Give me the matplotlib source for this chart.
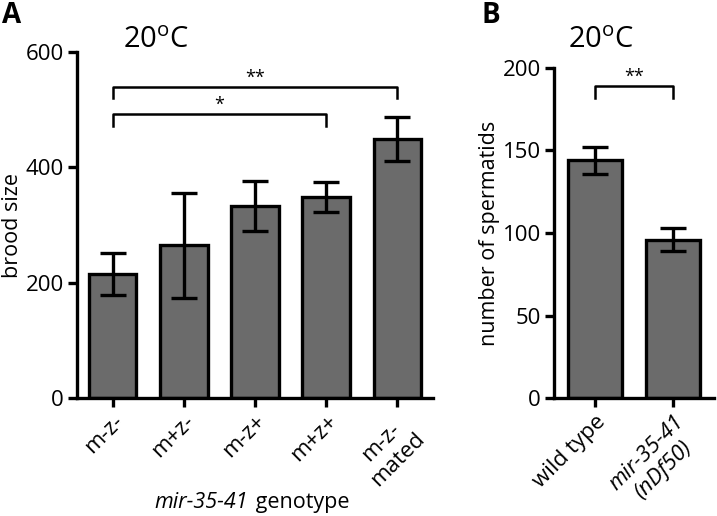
import matplotlib
matplotlib.use("Agg")
import matplotlib.pyplot as plt

plt.rcParams['font.family'] = ['Open Sans', 'DejaVu Sans']
plt.rcParams['mathtext.fontset'] = 'custom'
plt.rcParams['mathtext.rm'] = 'Open Sans'
plt.rcParams['mathtext.it'] = 'Open Sans:italic'

# Panel A data
a_labels = ["m-z-", "m+z-", "m-z+", "m+z+", "m-z-\nmated"]
a_means = [215, 265, 333, 348, 449]
a_errs = [37, 91, 44, 26, 38]
a_yticks = [0, 200, 400, 600]

# Panel B data
b_labels = ["wild type", "mir-35-41\n(nDf50)"]
b_means = [144, 96]
b_errs = [8, 7]
b_yticks = [0, 50, 100, 150, 200]

bar_color = "#6b6b6b"
lw_axis = 2.4
tick_fs = 16
label_fs = 15.5

fig = plt.figure(figsize=(7.17, 5.16), dpi=100)
axA = fig.add_axes([77/717, 118/516, 356/717, 346/516])
axB = fig.add_axes([554/717, 118/516, 160/717, 330/516])


def style(ax):
    for s in ['top', 'right']:
        ax.spines[s].set_visible(False)
    for s in ['left', 'bottom']:
        ax.spines[s].set_linewidth(lw_axis)
    ax.tick_params(width=lw_axis, length=6.5, labelsize=tick_fs, pad=3)


def bracket(ax, x1, x2, y, drop, label, fs=13):
    ax.plot([x1, x1, x2, x2], [y - drop, y, y, y - drop], color='black', lw=1.8,
            clip_on=False, zorder=4)
    ax.text((x1 + x2) / 2, y, label, ha='center', va='bottom', fontsize=fs)


# Panel A
xA = list(range(len(a_labels)))
axA.bar(xA, a_means, width=0.67, color=bar_color, edgecolor='black', linewidth=2.4, zorder=2)
axA.errorbar(xA, a_means, yerr=a_errs, fmt='none', ecolor='black', elinewidth=2.4,
             capsize=9.5, capthick=2.4, zorder=3)
axA.set_xlim(-0.5, len(a_labels) - 0.5)
axA.set_ylim(0, 600)
axA.set_yticks(a_yticks)
axA.set_xticks(xA)
axA.set_xticklabels(a_labels, rotation=45, ha='right', rotation_mode='anchor',
                    multialignment='center')
style(axA)
axA.set_ylabel("brood size", fontsize=label_fs, labelpad=2)

bracket(axA, 0, 4, 539, 19, "**")
bracket(axA, 0, 3, 492, 20, "*")

fig.text(156/717, (516 - 48)/516, "20$^\\mathrm{o}$C", fontsize=21,
         ha='center', va='baseline')

fig.text(248/717, 8/516, "mir-35-41", fontsize=label_fs, style='italic',
         ha='right', va='baseline')
fig.text(250/717, 8/516, " genotype", fontsize=label_fs, ha='left', va='baseline')

fig.text(2/717, 493/516, "A", fontsize=20, fontweight='bold', ha='left', va='baseline')
fig.text(482/717, 493/516, "B", fontsize=20, fontweight='bold', ha='left', va='baseline')

# Panel B
xB = list(range(len(b_labels)))
axB.bar(xB, b_means, width=0.69, color=bar_color, edgecolor='black', linewidth=2.4, zorder=2)
axB.errorbar(xB, b_means, yerr=b_errs, fmt='none', ecolor='black', elinewidth=2.4,
             capsize=9.5, capthick=2.4, zorder=3)
axB.set_xlim(-0.525, len(b_labels) - 0.475)
axB.set_ylim(0, 200)
axB.set_yticks(b_yticks)
axB.set_xticks(xB)
axB.set_xticklabels(b_labels, rotation=45, ha='right', rotation_mode='anchor',
                    multialignment='center')
axB.get_xticklabels()[1].set_style('italic')
style(axB)
axB.set_ylabel("number of spermatids", fontsize=label_fs, labelpad=2)
bracket(axB, 0, 1, 189, 7, "**")
fig.text(601/717, (516 - 48)/516, "20$^\\mathrm{o}$C", fontsize=21,
         ha='center', va='baseline')

fig.savefig("out.png", dpi=100)
